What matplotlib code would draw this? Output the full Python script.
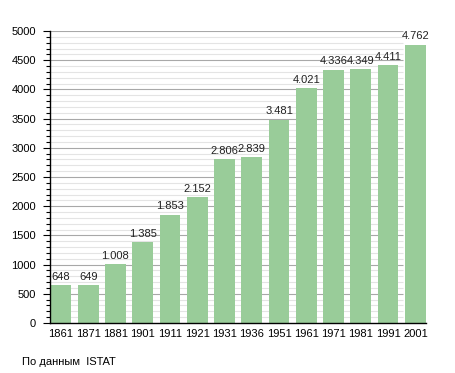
import matplotlib
matplotlib.use("Agg")
import matplotlib.pyplot as plt
from matplotlib.ticker import MultipleLocator

years = ["1861", "1871", "1881", "1901", "1911", "1921", "1931", "1936",
         "1951", "1961", "1971", "1981", "1991", "2001"]
population = [648, 649, 1008, 1385, 1853, 2152, 2806, 2839, 3481, 4021,
              4336, 4349, 4411, 4762]
value_labels = ["648", "649", "1.008", "1.385", "1.853", "2.152", "2.806",
                "2.839", "3.481", "4.021", "4.336", "4.349", "4.411", "4.762"]
source_text = "По данным  ISTAT"

plt.rcParams['font.family'] = ['Liberation Sans', 'DejaVu Sans']
fs = 8

fig = plt.figure(figsize=(4.55, 3.73), dpi=100)
ax = fig.add_axes([50/455, 1-323/373, (426-50)/455, (323-31)/373])

x = list(range(len(years)))
n = len(years)
xmin, xmax = -0.40, n - 1 + 0.39
ax.set_xlim(xmin, xmax)
ax.set_ylim(0, 5000)

grid_end = n - 1 - 0.46
for v in range(100, 5001, 100):
    major = v % 500 == 0
    ax.hlines(v, xmin, grid_end, colors='#a8a8a8' if major else '#e4e4e4',
              linewidth=0.8, zorder=1)

ax.bar(x, population, width=0.76, color='#99cc99', edgecolor='none', zorder=2)

for xi, v, lab in zip(x, population, value_labels):
    ax.text(xi, v + 60, lab, ha='center', va='bottom', fontsize=fs, color='#222222')

ax.set_xticks(x)
ax.set_xticklabels(years, fontsize=fs)
ax.tick_params(axis='x', length=0, pad=4)
ax.yaxis.set_major_locator(MultipleLocator(500))
ax.yaxis.set_minor_locator(MultipleLocator(100))
ax.tick_params(axis='y', which='major', length=5, width=0.8, labelsize=fs, pad=5)
ax.tick_params(axis='y', which='minor', length=3, width=0.8)

for s in ['top', 'right']:
    ax.spines[s].set_visible(False)
ax.spines['left'].set_linewidth(1.0)
ax.spines['bottom'].set_linewidth(1.0)

fig.text(22/455, 1-362/373, source_text, fontsize=fs, ha='left', va='center')

fig.savefig("out.png", dpi=100)
